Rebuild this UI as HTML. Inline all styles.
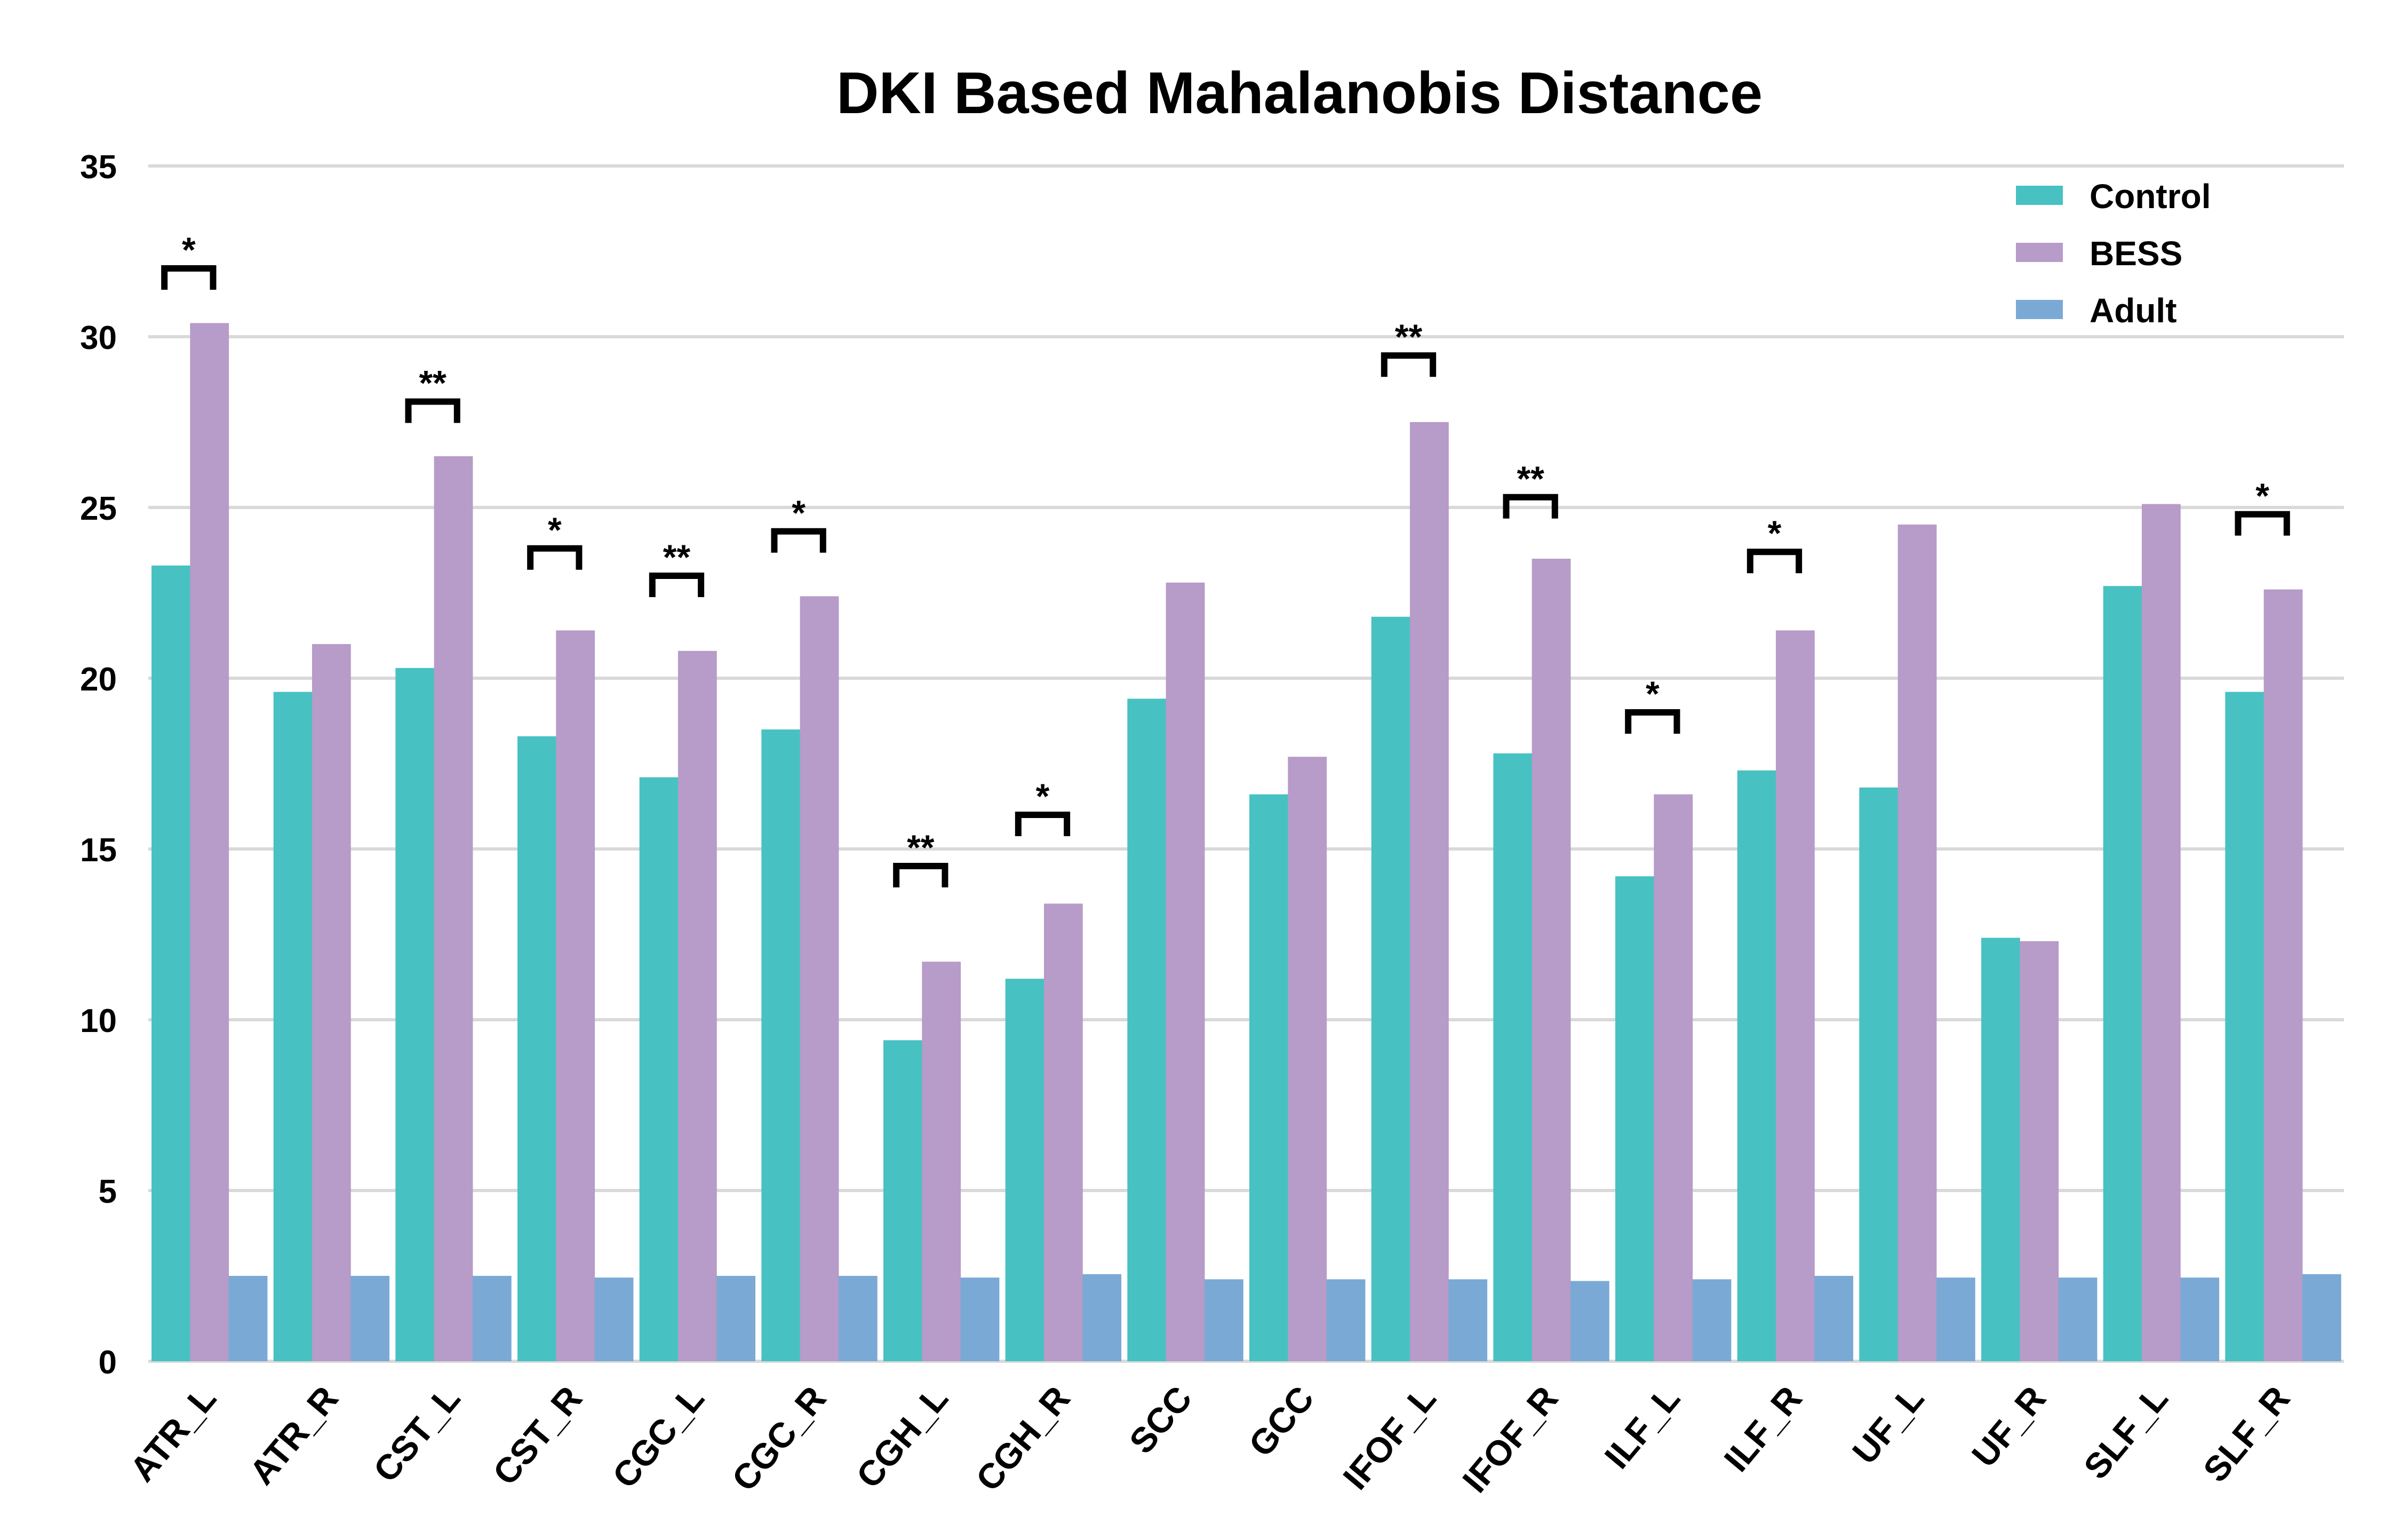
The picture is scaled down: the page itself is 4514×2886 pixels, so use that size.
<!DOCTYPE html>
<html><head><meta charset="utf-8"><style>
html,body{margin:0;padding:0;background:#fff;}
svg{display:block;font-family:"Liberation Sans",sans-serif;font-weight:bold;}
</style></head><body>
<svg id="chart" width="4514" height="2886" viewBox="0 0 4514 2886" xmlns="http://www.w3.org/2000/svg">
<text x="2436" y="212" text-anchor="middle" font-size="110" fill="#000">DKI Based Mahalanobis Distance</text>
<g id="grid"></g><g id="bars"></g><g id="sig"></g><g id="xlabels"></g><g id="legend"></g>
</svg>
<script>
const categories=["ATR_L","ATR_R","CST_L","CST_R","CGC_L","CGC_R","CGH_L","CGH_R","SCC","GCC","IFOF_L","IFOF_R","ILF_L","ILF_R","UF_L","UF_R","SLF_L","SLF_R"];
const controlVals=[23.3,19.6,20.3,18.3,17.1,18.5,9.4,11.2,19.4,16.6,21.8,17.8,14.2,17.3,16.8,12.4,22.7,19.6];
const bessVals=[30.4,21.0,26.5,21.4,20.8,22.4,11.7,13.4,22.8,17.7,27.5,23.5,16.6,21.4,24.5,12.3,25.1,22.6];
const adultVals=[2.5,2.5,2.5,2.45,2.5,2.5,2.45,2.55,2.4,2.4,2.4,2.35,2.4,2.5,2.45,2.45,2.45,2.55];
const sigCats=["ATR_L","CST_L","CST_R","CGC_L","CGC_R","CGH_L","CGH_R","IFOF_L","IFOF_R","ILF_L","ILF_R","SLF_R"];
const sigLevels=[32.0,28.1,23.8,23.0,24.3,14.5,16.0,29.45,25.3,19.0,23.7,24.8];
const sigMarks=["*","**","*","**","*","**","*","**","**","*","*","*"];
const yTicks=[0,5,10,15,20,25,30,35];
const seriesNames=["Control","BESS","Adult"];
const colors=["#48C1C2","#B79BC8","#7BA9D5"];

const NS="http://www.w3.org/2000/svg";
const X0=278,X1=4394,Y0=2551,Ymax=35,Ytop=311;
const groupW=(X1-X0)/categories.length, barW=72.3, pad=6;
function y(v){return Y0-(v/Ymax)*(Y0-Ytop);}
function bx(i,s){return X0+pad+i*groupW+s*barW;}
function mk(tag,attrs,parent){const e=document.createElementNS(NS,tag);for(const k in attrs)e.setAttribute(k,attrs[k]);parent.appendChild(e);return e;}
const grid=document.getElementById('grid');
yTicks.forEach(t=>{
  const l=mk('line',{x1:X0,x2:X1,y1:y(t),y2:y(t),stroke:'#D9D9D9','stroke-width':6},grid);
  
  
  const tx=mk('text',{x:219,y:y(t)+23,'text-anchor':'end','font-size':62,fill:'#000'},grid);
  tx.textContent=t;
  
  
});
const bars=document.getElementById('bars');
[controlVals,bessVals,adultVals].forEach((arr,s)=>{
  arr.forEach((v,i)=>{
    const r=mk('rect',{x:bx(i,s),y:y(v),width:barW+0.5,height:Y0-y(v),fill:colors[s]},bars);
    
    
  });
});
const sig=document.getElementById('sig');
sigCats.forEach((c,k)=>{
  const i=categories.indexOf(c);
  const xa=bx(i,0)+barW/2-12, xb=bx(i,1)+barW/2+7, yt=y(sigLevels[k]);
  const p=mk('path',{d:`M${xa},${yt+40} V${yt} H${xb} V${yt+40}`,fill:'none',stroke:'#000','stroke-width':12},sig);
  
  
  const t=mk('text',{x:(xa+xb)/2,y:yt-12,'text-anchor':'middle','font-size':66,fill:'#000'},sig);
  t.textContent=sigMarks[k];
  
  
});
const xl=document.getElementById('xlabels');
categories.forEach((c,i)=>{
  const cx=X0+pad+i*groupW+1.5*barW+16, cy=2622;
  const t=mk('text',{x:cx,y:cy,'text-anchor':'end','font-size':66,fill:'#000',transform:`rotate(-50 ${cx} ${cy})`},xl);
  t.textContent=c;
  
  
});
const lg=document.getElementById('legend');
seriesNames.forEach((n,s)=>{
  const cy=366+s*107;
  const r=mk('rect',{x:3779,y:cy-18,width:88,height:36,fill:colors[s]},lg);
  
  
  const t=mk('text',{x:3917,y:cy+24,'font-size':64,fill:'#000'},lg);
  t.textContent=n;
  
  
});
</script>
</body></html>
